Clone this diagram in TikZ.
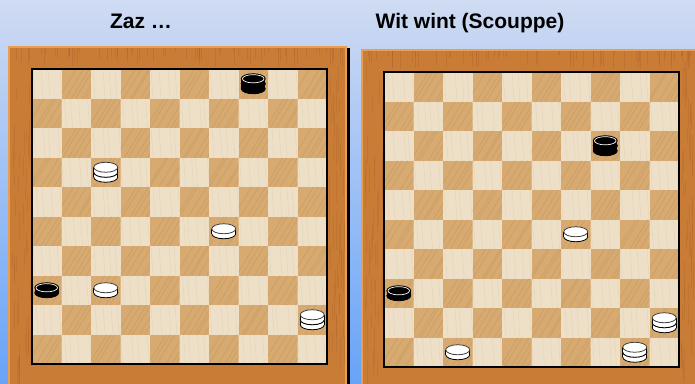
\documentclass[tikz,border=0pt]{standalone}
\usepackage{fontspec}
\setmainfont{Liberation Sans}
\definecolor{bgtop}{RGB}{207,219,242}
\definecolor{bgbot}{RGB}{104,163,248}
\definecolor{wood}{RGB}{201,124,54}
\definecolor{woodedge}{RGB}{234,158,80}
\definecolor{woodstreak}{RGB}{160,88,36}
\definecolor{lightsq}{RGB}{238,224,200}
\definecolor{darksq}{RGB}{214,170,112}
\definecolor{sqgrain}{RGB}{170,120,60}
\tikzset{
  title/.style={font=\fontsize{21}{25}\selectfont\bfseries, anchor=base, inner sep=0pt},
  frame/.style={fill=wood, draw=woodedge, line width=1.5pt},
  outline/.style={line width=0.8pt},
  grain/.style={sqgrain, opacity=0.22, line width=0.7pt},
  lgrain/.style={sqgrain, opacity=0.08, line width=0.8pt},
}
\newcommand\drboard[2]{%
 \begin{scope}[shift={(#1,#2)}]
  \fill[lightsq] (0,0) rectangle (295,295);
  \foreach \c in {0,...,9}{\foreach \r in {0,...,9}{%
     \pgfmathtruncatemacro\s{\c+\r}%
     \ifodd\s
       \begin{scope}
       \clip ({\c*29.5},{\r*29.5}) rectangle ++(29.5,29.5);
       \fill[darksq] ({\c*29.5},{\r*29.5}) rectangle ++(29.5,29.5);
       \foreach \k in {0,...,5}{%
         \draw[grain] ({\c*29.5+\k*6-6+random(0,4)},{\r*29.5+29.5}) -- ++(18,-29.5);}
       \end{scope}
     \else
       \begin{scope}
       \clip ({\c*29.5},{\r*29.5}) rectangle ++(29.5,29.5);
       \foreach \k in {0,...,3}{%
         \draw[lgrain] ({\c*29.5+\k*8+random(0,4)},{\r*29.5}) -- ++(2,29.5);}
       \end{scope}
     \fi}}
  \draw[line width=2pt] (0,0) rectangle (295,295);
 \end{scope}}
% one disc, top ellipse centre at (#1,#2)
\newcommand\wdisc[2]{%
  \filldraw[fill=white, draw=black, outline] ({#1},{#2+5}) ellipse [x radius=12, y radius=5];
  \fill[white] ({#1-12},{#2}) rectangle ({#1+12},{#2+5});
  \draw[outline] ({#1-12},{#2}) -- ({#1-12},{#2+5}) ({#1+12},{#2}) -- ({#1+12},{#2+5});
  \filldraw[fill=white, draw=black!75, outline] ({#1},{#2}) ellipse [x radius=12, y radius=5];}
\newcommand\bdisc[2]{%
  \filldraw[fill=black, draw=black, outline] ({#1},{#2+5}) ellipse [x radius=12, y radius=5];
  \fill[black] ({#1-12},{#2}) rectangle ({#1+12},{#2+5});
  \filldraw[fill=black, draw=black, outline] ({#1},{#2}) ellipse [x radius=12, y radius=5];
  \draw[white, line width=0.7pt] ({#1},{#2}) ellipse [x radius=10.8, y radius=4.1];}
% man / king : board origin (#1,#2), column #3, row #4, colour w or b
\newcommand\man[5]{%
  \pgfmathsetmacro\px{#1+(#3+0.5)*29.5}%
  \pgfmathsetmacro\py{#2+(#4+0.5)*29.5}%
  \csname #5disc\endcsname{\px}{\py-2.5}}
\newcommand\king[5]{%
  \pgfmathsetmacro\px{#1+(#3+0.5)*29.5}%
  \pgfmathsetmacro\py{#2+(#4+0.5)*29.5}%
  \csname #5disc\endcsname{\px}{\py}%
  \csname #5disc\endcsname{\px}{\py-5}}
\begin{document}
\begin{tikzpicture}[x=1pt, y=-1pt]
\useasboundingbox (0,0) rectangle (695,383);
\clip (0,0) rectangle (695,383);
\shade[top color=bgtop, bottom color=bgbot] (0,0) rectangle (695,383);
% titles
\node[title] (t1) at (141,28) {Zaz …};
\node[title] (t2) at (470,28) {Wit wint (Scouppe)};
% frames
\fill[black] (346,48) rectangle (349.5,390);
\filldraw[frame] (9,47) rectangle (346,400);
\filldraw[frame] (362,50) rectangle (720,400);
\pgfmathsetseed{7}
\foreach \i in {1,...,70}{%
  \pgfmathsetmacro\xx{12+random(0,330)}%
  \draw[woodstreak, opacity=0.25, line width=0.6pt] (\xx,48) -- ++(0,{random(4,18)});
  \pgfmathsetmacro\xb{364+random(0,330)}%
  \draw[woodstreak, opacity=0.25, line width=0.6pt] (\xb,51) -- ++(0,{random(4,18)});
}
\foreach \i in {1,...,40}{%
  \draw[woodstreak, opacity=0.2, line width=0.6pt] ({12+random(0,18)},{60+random(0,300)}) -- ++(0,{random(10,40)});
  \draw[woodstreak, opacity=0.2, line width=0.6pt] ({329+random(0,15)},{60+random(0,300)}) -- ++(0,{random(10,40)});
  \draw[woodstreak, opacity=0.2, line width=0.6pt] ({365+random(0,17)},{60+random(0,300)}) -- ++(0,{random(10,40)});
  \draw[woodstreak, opacity=0.2, line width=0.6pt] ({681+random(0,12)},{60+random(0,300)}) -- ++(0,{random(10,40)});
}
% boards
\drboard{32}{69}
\drboard{384}{72}
% left position
\king{32}{69}{7}{0}{b}
\king{32}{69}{2}{3}{w}
\man{32}{69}{6}{5}{w}
\man{32}{69}{0}{7}{b}
\man{32}{69}{2}{7}{w}
\king{32}{69}{9}{8}{w}
% right position
\king{384}{72}{7}{2}{b}
\man{384}{72}{6}{5}{w}
\man{384}{72}{0}{7}{b}
\king{384}{72}{9}{8}{w}
\man{384}{72}{2}{9}{w}
\king{384}{72}{8}{9}{w}
\end{tikzpicture}
\end{document}
